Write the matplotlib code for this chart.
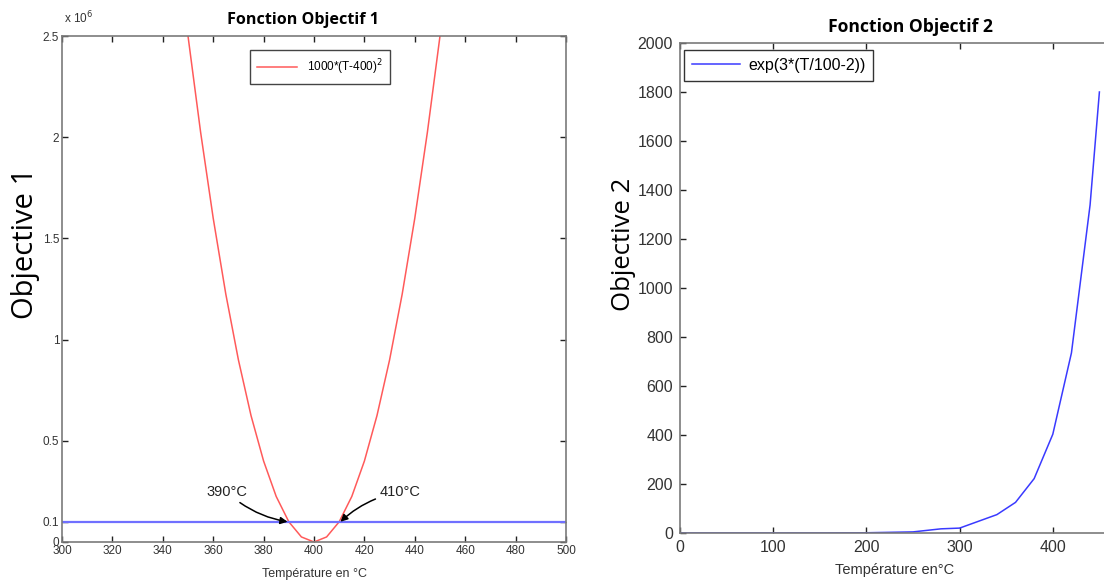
import matplotlib
matplotlib.use('Agg')
import matplotlib.pyplot as plt

# Fonction Objectif 1 : 1000*(T-400)^2
t1 = [345, 350, 355, 360, 365, 370, 375, 380, 385, 390, 395, 400,
      405, 410, 415, 420, 425, 430, 435, 440, 445, 450, 455]
obj1 = [3025000, 2500000, 2025000, 1600000, 1225000, 900000, 625000, 400000,
        225000, 100000, 25000, 0, 25000, 100000, 225000, 400000, 625000,
        900000, 1225000, 1600000, 2025000, 2500000, 3025000]
seuil = 100000
x1_ticks = [300, 320, 340, 360, 380, 400, 420, 440, 460, 480, 500]
y1_ticks = [0, 100000, 500000, 1000000, 1500000, 2000000, 2500000]
y1_labels = ['0', '0.1', '0.5', '1', '1.5', '2', '2.5']

# Fonction Objectif 2 : exp(3*(T/100-2))
t2 = [0, 50, 100, 150, 200, 250, 280, 300, 340, 360, 380, 400, 420, 440, 450]
obj2 = [0.0025, 0.011, 0.05, 0.22, 1, 4.5, 17, 20, 75, 125, 222, 403, 735, 1339, 1800]
x2_ticks = [0, 100, 200, 300, 400]
y2_ticks = [0, 200, 400, 600, 800, 1000, 1200, 1400, 1600, 1800, 2000]

W, H = 1104, 582
fig = plt.figure(figsize=(W / 100, H / 100), dpi=100)
plt.rcParams['font.family'] = 'Liberation Sans'
spine_col = '#7a7a7a'
tick_col = '#333333'


def style(ax):
    for s in ax.spines.values():
        s.set_color(spine_col)
        s.set_linewidth(1.2)
    ax.tick_params(direction='in', length=4, width=1, color='#222222',
                   top=True, right=True, labelcolor=tick_col)


# ---- left panel
ax1 = fig.add_axes([62 / W, 1 - 542 / H, 504 / W, 506 / H])
ax1.plot(t1, obj1, color='#ff5a5a', lw=1.1, label='1000*(T-400)$^2$')
ax1.axhline(seuil, color='#7070ff', lw=1.6)
ax1.set_xlim(300, 500)
ax1.set_ylim(0, 2500000)
ax1.set_xticks(x1_ticks)
ax1.set_yticks(y1_ticks)
ax1.set_yticklabels(y1_labels)
style(ax1)
ax1.tick_params(labelsize=8.5, pad=2)
ax1.legend(loc='upper left', bbox_to_anchor=(188 / 504, 0.972), borderaxespad=0,
           fontsize=8.5, fancybox=False, edgecolor='#444444', framealpha=1,
           handlelength=3.4, borderpad=0.6)
ax1.annotate('390°C', xy=(389.5, seuil), xytext=(373.5, 247000), fontsize=10.5,
             color='#222222', ha='right', va='center',
             arrowprops=dict(arrowstyle='-|>', color='black', lw=1.1,
                             connectionstyle='arc3,rad=0.15', shrinkA=1, shrinkB=0))
ax1.annotate('410°C', xy=(410.5, seuil), xytext=(426, 247000), fontsize=10.5,
             color='#222222', ha='left', va='center',
             arrowprops=dict(arrowstyle='-|>', color='black', lw=1.1,
                             connectionstyle='arc3,rad=0.15', shrinkA=1, shrinkB=0))
fig.text(64 / W, 1 - 18 / H, 'x 10$^6$', fontsize=8.5, color=tick_col, ha='left', va='center')
fig.text(303 / W, 1 - 20 / H, 'Fonction Objectif 1', fontsize=11.6, fontweight='bold',
         family='Open Sans', ha='center', va='center')
fig.text(26 / W, 1 - 243 / H, 'Objective 1', fontsize=21, family='Open Sans',
         rotation=90, ha='center', va='center')
fig.text(315 / W, 1 - 574 / H, 'Température en °C', fontsize=9, color=tick_col,
         ha='center', va='center')

# ---- right panel (cut at the image edge)
ax2 = fig.add_axes([680 / W, 1 - 533 / H, 466 / W, 490 / H])
ax2.plot(t2, obj2, color='#3a3aff', lw=1.1, label='exp(3*(T/100-2))')
ax2.set_xlim(0, 500)
ax2.set_ylim(0, 2000)
ax2.set_xticks(x2_ticks)
ax2.set_yticks(y2_ticks)
style(ax2)
ax2.tick_params(labelsize=11.5, pad=5)
ax2.legend(loc='upper left', bbox_to_anchor=(4 / 466, (533 - 50) / 490), borderaxespad=0,
           fontsize=11.5, fancybox=False, edgecolor='#333333', framealpha=1,
           handlelength=3.0, handletextpad=0.5, borderpad=0.5)
fig.text(910 / W, 1 - 27 / H, 'Fonction Objectif 2', fontsize=12.6, fontweight='bold',
         family='Open Sans', ha='center', va='center')
fig.text(623 / W, 1 - 244 / H, 'Objective 2', fontsize=18.5, family='Open Sans',
         rotation=90, ha='center', va='center')
fig.text(895 / W, 1 - 570 / H, 'Température en°C', fontsize=10.5, color=tick_col,
         ha='center', va='center')

fig.savefig('out.png', dpi=100)
